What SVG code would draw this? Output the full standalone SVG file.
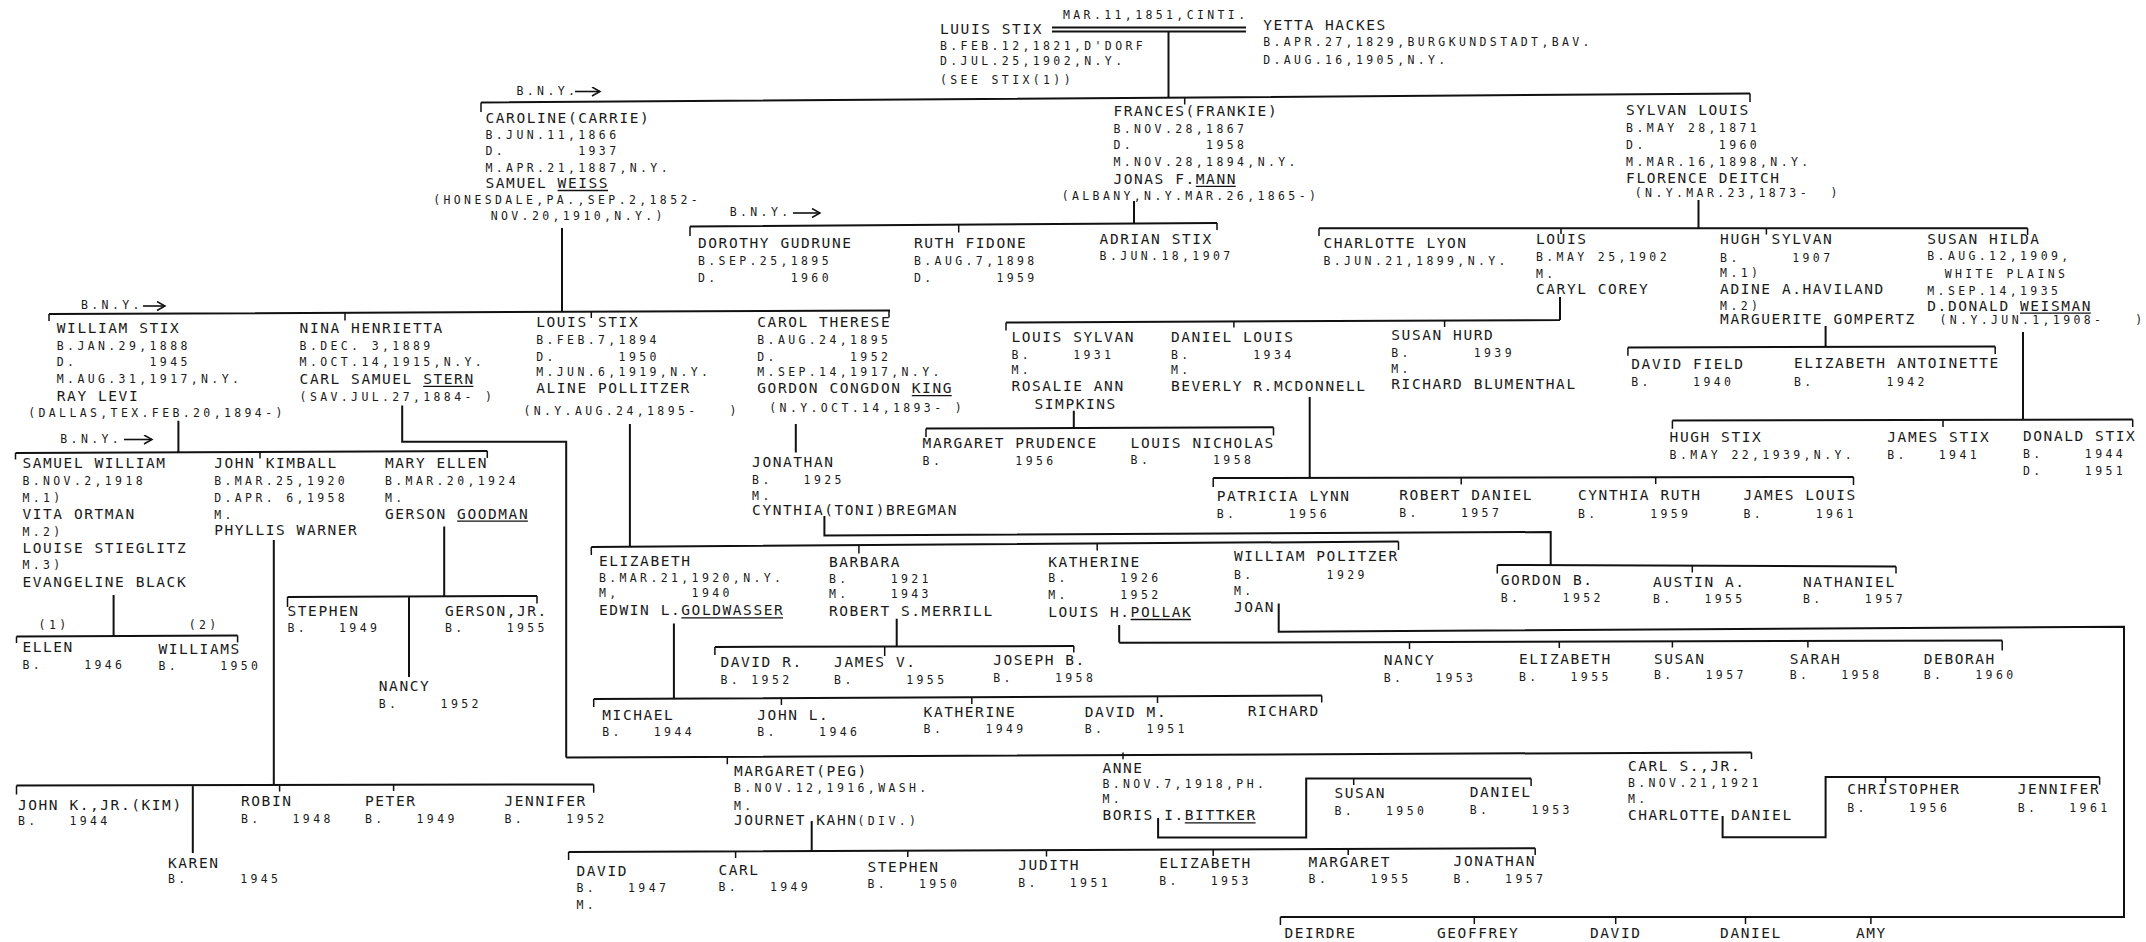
<svg xmlns="http://www.w3.org/2000/svg" width="2146" height="942" viewBox="0 0 2146 942" xml:space="preserve">
<defs>
<style>
text{font-family:"DejaVu Sans Mono","Liberation Mono",monospace;fill:#1a1a1a;white-space:pre}
.n{font-size:14.5px;letter-spacing:1.57px}
.d{font-size:11.5px;letter-spacing:3.38px}
.m{stroke:#111;stroke-width:2;fill:none}
.t{stroke:#111;stroke-width:1.5;fill:none}
.u{stroke:#111;stroke-width:1.3}
.ar{stroke:#111;stroke-width:1.6;fill:none}
</style>
<marker id="ah" markerUnits="userSpaceOnUse" markerWidth="12" markerHeight="12" refX="9" refY="5" orient="auto">
<path d="M1,0.5 L9,5 L1,9.5" fill="none" stroke="#111" stroke-width="1.5"/>
</marker>
</defs>
<rect width="2146" height="942" fill="#fff"/>

<g id="connectors">
<path class="m" d="M1052 27.5H1246 M1052 31.5H1246 M1168.5 31.5V97 M481 102.5L1750 93.5 M562 228V311 M49 314L890 310.5 M1134 201V223.5 M690 226.5L1217 223 M1698.5 200V228 M1319 228.2H2027.6 M1560 297V320 M1006 322.5L1560 320 M1073.8 410.7V427.7 M926 428.5L1273.5 427.2 M1309.7 397V477.5 M1213.2 478L1853.5 477 M1825.6 326V347.2 M1627.9 347.4L1995.2 346.6 M2023 332V420.2 M1672.4 420.4L2132.7 419.6 M402.2 405.6V441.7H566.2V757.5 M566.2 757.5L1751.5 752.4 M629.9 424V546.8 M591.3 547L1398.5 541.5 M795.8 424V452.6 M824.4 516V535.5L1550.7 532V565.3 M1497.3 565L1896 566.4 M113.6 595V636 M16.5 636.5L237.6 635.5 M444.2 526.4V597 M287.5 597L537 596 M409 597V677 M178.4 420.7V452.3 M15.5 453L487.3 451 M273.8 540V785 M16.5 785.4L593.7 784.4 M192.8 785V853 M673.9 623.4V698.8 M593.7 699L1321.7 695.5 M896.7 618.7V646.8 M714.9 647L1073.8 646 M1119.2 625V642.6 M1119.2 642.8L2002.2 640.4 M1278.7 603.6V631.7L2124 626.8V917.1H1280.4 M811.7 821V851.5 M568.6 852L1535.2 848.2 M1158.1 818V837.5H1306.2V778.4H1531.1 M1722.6 816V837.3H1825.6V776.9H2099.6"/>
<path class="t" d="M481 102.5V112 M1184.7 97V104.5 M1750 93.5V102 M49 314V321 M345 313V320.5 M591.3 311.5V318 M889 310.5V317.5 M690 226.5V236 M958.7 225V232.5 M1217 223V230 M1319 228.2V236 M1561 228.2V234 M1766.4 228.2V234.5 M2027.6 228.2V235 M1006 322.5V330.5 M1233.9 321.2V327.5 M1444.6 320.6V327 M926 428.5V437 M1273.5 427.2V435.5 M1213.2 478V487 M1461.2 477.4V484.5 M1655.7 477.2V484 M1853.5 477V485 M1627.9 347.4V355.8 M1995.2 346.6V354 M1672.4 420.4V428.8 M1943 419.9V427 M2132.7 419.6V427 M727.3 757V764.3 M1123 752.6V759.3 M1751.5 752.4V759 M591.3 547V555 M858.9 546V553.5 M1097.2 543.2V550.5 M1398.5 541.5V550 M1497.3 565V573.4 M1692.3 565.8V572.5 M1896 566.4V573.5 M16.5 636.5V643 M237.6 635.5V642.5 M287.5 597V607 M537 596V603.5 M15.5 453V459.5 M260 452.2V458.5 M487.3 451V458 M16.5 785.4V794.5 M279.6 785.2V791.5 M393.6 785V791 M593.7 784.4V792.8 M593.7 699V707 M781.4 698.2V705 M971.8 697.3V704 M1157.5 696.1V703 M1321.7 695.5V702.5 M714.9 647V655 M884.7 646.6V656 M1073.8 646V652.5 M1409.5 642V649 M1559.3 641.6V648 M1672.4 641.2V647.5 M1807.9 640.9V647.5 M2002.2 640.4V650.6 M1280.4 917.1V925 M1474.3 917.1V924 M1615.7 917.1V924 M1745.5 917.1V924 M1870.9 917.1V924 M568.6 852V860 M735.6 851.5V858 M907.8 850.8V857 M1046.5 850.2V856.5 M1213.2 849.5V856 M1348.2 848.9V855 M1535.2 848.2V855 M1353.7 778.4V785 M1531.1 778.4V786 M1885.5 776.9V783 M2099.6 776.9V784.7"/>
<line class="ar" x1="575" y1="91.5" x2="600" y2="91.5" marker-end="url(#ah)"/>
<line class="ar" x1="793" y1="213" x2="820" y2="213" marker-end="url(#ah)"/>
<line class="ar" x1="143" y1="306" x2="165" y2="306" marker-end="url(#ah)"/>
<line class="ar" x1="124" y1="439.5" x2="152" y2="439.5" marker-end="url(#ah)"/>
</g>

<g id="labels">
<text class="d" x="1063" y="18.5">MAR.11,1851,CINTI.</text>
<text class="d" x="516.5" y="95">B.N.Y.</text>
<text class="d" x="729.7" y="216.4">B.N.Y.</text>
<text class="d" x="81" y="309.4">B.N.Y.</text>
<text class="d" x="60.3" y="442.5">B.N.Y.</text>
<text class="d" x="38.6" y="628.8">(1)</text>
<text class="d" x="188.7" y="628.8">(2)</text>
</g>

<g id="louis-stix-sr">
<text class="n" x="940" y="33.6">LUUIS STIX</text>
<text class="d" x="940" y="49.7">B.FEB.12,1821,D'DORF</text>
<text class="d" x="940" y="65.4">D.JUL.25,1902,N.Y.</text>
<text class="d" x="940" y="83.9">(SEE STIX(1))</text>
</g>
<g id="yetta-hackes">
<text class="n" x="1263.2" y="30.2">YETTA HACKES</text>
<text class="d" x="1263.2" y="46">B.APR.27,1829,BURGKUNDSTADT,BAV.</text>
<text class="d" x="1263.2" y="63.8">D.AUG.16,1905,N.Y.</text>
</g>

<g id="caroline">
<text class="n" x="485.5" y="122.5">CAROLINE(CARRIE)</text>
<text class="d" x="485.5" y="138.5">B.JUN.11,1866</text>
<text class="d" x="485.5" y="155">D.       1937</text>
<text class="d" x="485.5" y="171.5">M.APR.21,1887,N.Y.</text>
<text class="n" x="485.5" y="188">SAMUEL WEISS</text>
<line class="u" x1="557.6" y1="190.5" x2="608" y2="190.5"/>
<text class="d" x="433.2" y="204">(HONESDALE,PA.,SEP.2,1852-</text>
<text class="d" x="490.7" y="220">NOV.20,1910,N.Y.)</text>
</g>
<g id="frances">
<text class="n" x="1113.4" y="115.8">FRANCES(FRANKIE)</text>
<text class="d" x="1113.4" y="132.6">B.NOV.28,1867</text>
<text class="d" x="1113.4" y="149.3">D.       1958</text>
<text class="d" x="1113.4" y="166.1">M.NOV.28,1894,N.Y.</text>
<text class="n" x="1113.4" y="183.9">JONAS F.MANN</text>
<line class="u" x1="1195.8" y1="186.4" x2="1235.7" y2="186.4"/>
<text class="d" x="1061.7" y="199.7">(ALBANY,N.Y.MAR.26,1865-)</text>
</g>
<g id="sylvan-louis">
<text class="n" x="1626.1" y="115.4">SYLVAN LOUIS</text>
<text class="d" x="1626.1" y="132.4">B.MAY 28,1871</text>
<text class="d" x="1626.1" y="149.4">D.       1960</text>
<text class="d" x="1626.1" y="166.4">M.MAR.16,1898,N.Y.</text>
<text class="n" x="1626.1" y="183.4">FLORENCE DEITCH</text>
<text class="d" x="1634.8" y="197">(N.Y.MAR.23,1873-  )</text>
</g>

<g id="dorothy">
<text class="n" x="698" y="248.3">DOROTHY GUDRUNE</text>
<text class="d" x="698" y="265.1">B.SEP.25,1895</text>
<text class="d" x="698" y="281.9">D.       1960</text>
</g>
<g id="ruth">
<text class="n" x="914" y="248.3">RUTH FIDONE</text>
<text class="d" x="914" y="265.1">B.AUG.7,1898</text>
<text class="d" x="914" y="281.9">D.      1959</text>
</g>
<g id="adrian">
<text class="n" x="1099.6" y="244.3">ADRIAN STIX</text>
<text class="d" x="1099.6" y="260.1">B.JUN.18,1907</text>
</g>

<g id="charlotte-lyon">
<text class="n" x="1323.4" y="247.7">CHARLOTTE LYON</text>
<text class="d" x="1323.4" y="265.1">B.JUN.21,1899,N.Y.</text>
</g>
<g id="louis-caryl">
<text class="n" x="1536" y="243.5">LOUIS</text>
<text class="d" x="1536" y="261">B.MAY 25,1902</text>
<text class="d" x="1536" y="277.5">M.</text>
<text class="n" x="1536" y="294">CARYL COREY</text>
</g>
<g id="hugh-sylvan">
<text class="n" x="1720.1" y="243.8">HUGH SYLVAN</text>
<text class="d" x="1720.1" y="261.5">B.     1907</text>
<text class="d" x="1720.1" y="276.7">M.1)</text>
<text class="n" x="1720.1" y="293.7">ADINE A.HAVILAND</text>
<text class="d" x="1720.1" y="309.7">M.2)</text>
<text class="n" x="1720.1" y="323.6">MARGUERITE GOMPERTZ</text>
</g>
<g id="susan-hilda">
<text class="n" x="1927.3" y="243.8">SUSAN HILDA</text>
<text class="d" x="1927.3" y="259.8">B.AUG.12,1909,</text>
<text class="d" x="1944.7" y="277.8">WHITE PLAINS</text>
<text class="d" x="1927.3" y="294.7">M.SEP.14,1935</text>
<text class="n" x="1927.3" y="310.7">D.DONALD WEISMAN</text>
<line class="u" x1="2020" y1="313.2" x2="2090.8" y2="313.2"/>
<text class="d" x="1939.5" y="323.6">(N.Y.JUN.1,1908-   )</text>
</g>

<g id="william-stix">
<text class="n" x="56.8" y="332.8">WILLIAM STIX</text>
<text class="d" x="56.8" y="349.6">B.JAN.29,1888</text>
<text class="d" x="56.8" y="366.4">D.       1945</text>
<text class="d" x="56.8" y="383.2">M.AUG.31,1917,N.Y.</text>
<text class="n" x="56.8" y="401.3">RAY LEVI</text>
<text class="d" x="28.2" y="416.7">(DALLAS,TEX.FEB.20,1894-)</text>
</g>
<g id="nina-henrietta">
<text class="n" x="299.6" y="332.8">NINA HENRIETTA</text>
<text class="d" x="299.6" y="349.6">B.DEC. 3,1889</text>
<text class="d" x="299.6" y="366.4">M.OCT.14,1915,N.Y.</text>
<text class="n" x="299.6" y="383.8">CARL SAMUEL STERN</text>
<line class="u" x1="423.2" y1="386.3" x2="473.4" y2="386.3"/>
<text class="d" x="299.6" y="400.6">(SAV.JUL.27,1884- )</text>
</g>
<g id="louis-stix-jr">
<text class="n" x="536.2" y="326.8">LOUIS STIX</text>
<text class="d" x="536.2" y="343.6">B.FEB.7,1894</text>
<text class="d" x="536.2" y="360.5">D.      1950</text>
<text class="d" x="536.2" y="376.1">M.JUN.6,1919,N.Y.</text>
<text class="n" x="536.2" y="393.2">ALINE POLLITZER</text>
<text class="d" x="523.4" y="414.7">(N.Y.AUG.24,1895-   )</text>
</g>
<g id="carol-therese">
<text class="n" x="757.3" y="326.8">CAROL THERESE</text>
<text class="d" x="757.3" y="343.6">B.AUG.24,1895</text>
<text class="d" x="757.3" y="360.5">D.       1952</text>
<text class="d" x="757.3" y="376.1">M.SEP.14,1917,N.Y.</text>
<text class="n" x="757.3" y="393.2">GORDON CONGDON KING</text>
<line class="u" x1="911.8" y1="395.7" x2="951.7" y2="395.7"/>
<text class="d" x="769.3" y="412.3">(N.Y.OCT.14,1893- )</text>
</g>
<g id="jonathan-king">
<text class="n" x="752.1" y="466.7">JONATHAN</text>
<text class="d" x="752.1" y="483.5">B.   1925</text>
<text class="d" x="752.1" y="499.6">M.</text>
<text class="n" x="752.1" y="515.4">CYNTHIA(TONI)BREGMAN</text>
</g>

<g id="louis-sylvan">
<text class="n" x="1011.4" y="341.5">LOUIS SYLVAN</text>
<text class="d" x="1011.4" y="358.7">B.    1931</text>
<text class="d" x="1011.4" y="373.8">M.</text>
<text class="n" x="1011.4" y="390.5">ROSALIE ANN</text>
<text class="n" x="1034.5" y="409">SIMPKINS</text>
</g>
<g id="daniel-louis">
<text class="n" x="1170.9" y="341.9">DANIEL LOUIS</text>
<text class="d" x="1170.9" y="358.7">B.      1934</text>
<text class="d" x="1170.9" y="373.8">M.</text>
<text class="n" x="1170.9" y="390.5">BEVERLY R.MCDONNELL</text>
</g>
<g id="susan-hurd">
<text class="n" x="1391.3" y="340.2">SUSAN HURD</text>
<text class="d" x="1391.3" y="357">B.      1939</text>
<text class="d" x="1391.3" y="372.5">M.</text>
<text class="n" x="1391.3" y="388.9">RICHARD BLUMENTHAL</text>
</g>
<g id="margaret-prudence">
<text class="n" x="922.6" y="447.6">MARGARET PRUDENCE</text>
<text class="d" x="922.6" y="465">B.       1956</text>
</g>
<g id="louis-nicholas">
<text class="n" x="1130.6" y="447.6">LOUIS NICHOLAS</text>
<text class="d" x="1130.6" y="464.4">B.      1958</text>
</g>
<g id="patricia-lynn">
<text class="n" x="1216.7" y="500.6">PATRICIA LYNN</text>
<text class="d" x="1216.7" y="518">B.     1956</text>
</g>
<g id="robert-daniel">
<text class="n" x="1399.2" y="499.6">ROBERT DANIEL</text>
<text class="d" x="1399.2" y="517">B.    1957</text>
</g>
<g id="cynthia-ruth">
<text class="n" x="1578" y="500">CYNTHIA RUTH</text>
<text class="d" x="1578" y="517.5">B.     1959</text>
</g>
<g id="james-louis">
<text class="n" x="1743.5" y="500">JAMES LOUIS</text>
<text class="d" x="1743.5" y="517.5">B.     1961</text>
</g>
<g id="david-field">
<text class="n" x="1631.3" y="369.4">DAVID FIELD</text>
<text class="d" x="1631.3" y="386.4">B.    1940</text>
</g>
<g id="elizabeth-antoinette">
<text class="n" x="1793.9" y="368.4">ELIZABETH ANTOINETTE</text>
<text class="d" x="1793.9" y="386">B.       1942</text>
</g>
<g id="hugh-stix">
<text class="n" x="1669.6" y="442.4">HUGH STIX</text>
<text class="d" x="1669.6" y="459.4">B.MAY 22,1939,N.Y.</text>
</g>
<g id="james-stix">
<text class="n" x="1887.3" y="442.4">JAMES STIX</text>
<text class="d" x="1887.3" y="459.4">B.   1941</text>
</g>
<g id="donald-stix">
<text class="n" x="2023" y="440.7">DONALD STIX</text>
<text class="d" x="2023" y="457.7">B.    1944</text>
<text class="d" x="2023" y="474.7">D.    1951</text>
</g>

<g id="samuel-william">
<text class="n" x="22.4" y="468.4">SAMUEL WILLIAM</text>
<text class="d" x="22.4" y="485.2">B.NOV.2,1918</text>
<text class="d" x="22.4" y="502">M.1)</text>
<text class="n" x="22.4" y="518.8">VITA ORTMAN</text>
<text class="d" x="22.4" y="535.6">M.2)</text>
<text class="n" x="22.4" y="553">LOUISE STIEGLITZ</text>
<text class="d" x="22.4" y="569.2">M.3)</text>
<text class="n" x="22.4" y="587">EVANGELINE BLACK</text>
</g>
<g id="john-kimball">
<text class="n" x="214.2" y="468.4">JOHN KIMBALL</text>
<text class="d" x="214.2" y="485.2">B.MAR.25,1920</text>
<text class="d" x="214.2" y="502">D.APR. 6,1958</text>
<text class="d" x="214.2" y="518.8">M.</text>
<text class="n" x="214.2" y="534.8">PHYLLIS WARNER</text>
</g>
<g id="mary-ellen">
<text class="n" x="385" y="468.4">MARY ELLEN</text>
<text class="d" x="385" y="485.2">B.MAR.20,1924</text>
<text class="d" x="385" y="502">M.</text>
<text class="n" x="385" y="518.7">GERSON GOODMAN</text>
<line class="u" x1="457.1" y1="521.2" x2="527.9" y2="521.2"/>
</g>
<g id="ellen">
<text class="n" x="22.4" y="651.9">ELLEN</text>
<text class="d" x="22.4" y="668.7">B.    1946</text>
</g>
<g id="williams">
<text class="n" x="158.4" y="653.6">WILLIAMS</text>
<text class="d" x="158.4" y="670">B.    1950</text>
</g>
<g id="stephen-goodman">
<text class="n" x="287.5" y="616">STEPHEN</text>
<text class="d" x="287.5" y="632">B.   1949</text>
</g>
<g id="gerson-jr">
<text class="n" x="444.9" y="616">GERSON,JR.</text>
<text class="d" x="444.9" y="632">B.    1955</text>
</g>
<g id="nancy-goodman">
<text class="n" x="378.8" y="690.5">NANCY</text>
<text class="d" x="378.8" y="707.9">B.    1952</text>
</g>
<g id="john-k-jr">
<text class="n" x="17.9" y="809.6">JOHN K.,JR.(KIM)</text>
<text class="d" x="17.9" y="825.4">B.   1944</text>
</g>
<g id="karen">
<text class="n" x="168" y="867.7">KAREN</text>
<text class="d" x="168" y="883.4">B.     1945</text>
</g>
<g id="robin">
<text class="n" x="241" y="806.2">ROBIN</text>
<text class="d" x="241" y="823">B.   1948</text>
</g>
<g id="peter">
<text class="n" x="365" y="806.2">PETER</text>
<text class="d" x="365" y="823">B.   1949</text>
</g>
<g id="jennifer-kimball">
<text class="n" x="504.5" y="806.2">JENNIFER</text>
<text class="d" x="504.5" y="823">B.    1952</text>
</g>

<g id="elizabeth-goldwasser">
<text class="n" x="598.9" y="565.7">ELIZABETH</text>
<text class="d" x="598.9" y="581.8">B.MAR.21,1920,N.Y.</text>
<text class="d" x="598.9" y="597">M,       1940</text>
<text class="n" x="598.9" y="615.4">EDWIN L.GOLDWASSER</text>
<line class="u" x1="681.3" y1="617.9" x2="783" y2="617.9"/>
</g>
<g id="barbara">
<text class="n" x="828.9" y="566.7">BARBARA</text>
<text class="d" x="828.9" y="582.5">B.    1921</text>
<text class="d" x="828.9" y="597.9">M.    1943</text>
<text class="n" x="828.9" y="616">ROBERT S.MERRILL</text>
</g>
<g id="katherine-pollak">
<text class="n" x="1048.2" y="566.7">KATHERINE</text>
<text class="d" x="1048.2" y="581.8">B.     1926</text>
<text class="d" x="1048.2" y="598.6">M.     1952</text>
<text class="n" x="1048.2" y="617">LOUIS H.POLLAK</text>
<line class="u" x1="1130.6" y1="619.5" x2="1191.1" y2="619.5"/>
</g>
<g id="william-politzer">
<text class="n" x="1233.9" y="561">WILLIAM POLITZER</text>
<text class="d" x="1233.9" y="578.5">B.       1929</text>
<text class="d" x="1233.9" y="594.6">M.</text>
<text class="n" x="1233.9" y="612">JOAN</text>
</g>
<g id="gordon-b">
<text class="n" x="1500.8" y="585.2">GORDON B.</text>
<text class="d" x="1500.8" y="602">B.    1952</text>
</g>
<g id="austin-a">
<text class="n" x="1652.9" y="586.7">AUSTIN A.</text>
<text class="d" x="1652.9" y="603">B.   1955</text>
</g>
<g id="nathaniel">
<text class="n" x="1803" y="586.7">NATHANIEL</text>
<text class="d" x="1803" y="603">B.    1957</text>
</g>

<g id="david-r">
<text class="n" x="720.4" y="667">DAVID R.</text>
<text class="d" x="720.4" y="683.8">B. 1952</text>
</g>
<g id="james-v">
<text class="n" x="834.1" y="667">JAMES V.</text>
<text class="d" x="834.1" y="683.8">B.     1955</text>
</g>
<g id="joseph-b">
<text class="n" x="993.2" y="665.3">JOSEPH B.</text>
<text class="d" x="993.2" y="682">B.    1958</text>
</g>
<g id="michael">
<text class="n" x="602.3" y="720">MICHAEL</text>
<text class="d" x="602.3" y="735.8">B.   1944</text>
</g>
<g id="john-l">
<text class="n" x="757.3" y="720">JOHN L.</text>
<text class="d" x="757.3" y="735.8">B.    1946</text>
</g>
<g id="katherine-goldwasser">
<text class="n" x="923.6" y="717.3">KATHERINE</text>
<text class="d" x="923.6" y="733">B.    1949</text>
</g>
<g id="david-m">
<text class="n" x="1084.8" y="716.6">DAVID M.</text>
<text class="d" x="1084.8" y="732.5">B.    1951</text>
</g>
<g id="richard">
<text class="n" x="1247.7" y="715.6">RICHARD</text>
</g>
<g id="nancy-pollak">
<text class="n" x="1383.7" y="665.3">NANCY</text>
<text class="d" x="1383.7" y="682">B.   1953</text>
</g>
<g id="elizabeth-pollak">
<text class="n" x="1519" y="663.6">ELIZABETH</text>
<text class="d" x="1519" y="680.5">B.   1955</text>
</g>
<g id="susan-pollak">
<text class="n" x="1654" y="663.5">SUSAN</text>
<text class="d" x="1654" y="679.4">B.   1957</text>
</g>
<g id="sarah">
<text class="n" x="1789.8" y="663.5">SARAH</text>
<text class="d" x="1789.8" y="679.4">B.   1958</text>
</g>
<g id="deborah">
<text class="n" x="1923.8" y="663.5">DEBORAH</text>
<text class="d" x="1923.8" y="679.4">B.   1960</text>
</g>

<g id="margaret-peg">
<text class="n" x="733.9" y="776">MARGARET(PEG)</text>
<text class="d" x="733.9" y="791.8">B.NOV.12,1916,WASH.</text>
<text class="d" x="733.9" y="809.6">M.</text>
<text class="n" x="733.9" y="825.4">JOURNET KAHN<tspan class="d">(DIV.)</tspan></text>
</g>
<g id="anne">
<text class="n" x="1102.4" y="772.7">ANNE</text>
<text class="d" x="1102.4" y="787.8">B.NOV.7,1918,PH.</text>
<text class="d" x="1102.4" y="802.9">M.</text>
<text class="n" x="1102.4" y="820.3">BORIS I.BITTKER</text>
<line class="u" x1="1184.8" y1="822.8" x2="1255.6" y2="822.8"/>
</g>
<g id="carl-jr">
<text class="n" x="1627.9" y="771.1">CARL S.,JR.</text>
<text class="d" x="1627.9" y="787.4">B.NOV.21,1921</text>
<text class="d" x="1627.9" y="803.4">M.</text>
<text class="n" x="1627.9" y="820.3">CHARLOTTE DANIEL</text>
</g>
<g id="david-kahn">
<text class="n" x="576.5" y="875.7">DAVID</text>
<text class="d" x="576.5" y="891.8">B.   1947</text>
<text class="d" x="576.5" y="909.3">M.</text>
</g>
<g id="carl-kahn">
<text class="n" x="718.4" y="875">CARL</text>
<text class="d" x="718.4" y="891">B.   1949</text>
</g>
<g id="stephen-kahn">
<text class="n" x="867.5" y="871.7">STEPHEN</text>
<text class="d" x="867.5" y="888">B.   1950</text>
</g>
<g id="judith">
<text class="n" x="1018.3" y="870">JUDITH</text>
<text class="d" x="1018.3" y="886.5">B.   1951</text>
</g>
<g id="elizabeth-kahn">
<text class="n" x="1159.2" y="867.7">ELIZABETH</text>
<text class="d" x="1159.2" y="885">B.   1953</text>
</g>
<g id="margaret-kahn">
<text class="n" x="1308.6" y="866.7">MARGARET</text>
<text class="d" x="1308.6" y="883.4">B.    1955</text>
</g>
<g id="jonathan-kahn">
<text class="n" x="1453.6" y="866">JONATHAN</text>
<text class="d" x="1453.6" y="882.7">B.   1957</text>
</g>
<g id="susan-bittker">
<text class="n" x="1334.5" y="797.9">SUSAN</text>
<text class="d" x="1334.5" y="814.6">B.   1950</text>
</g>
<g id="daniel-bittker">
<text class="n" x="1469.8" y="797.2">DANIEL</text>
<text class="d" x="1469.8" y="814">B.    1953</text>
</g>
<g id="christopher">
<text class="n" x="1847.2" y="793.9">CHRISTOPHER</text>
<text class="d" x="1847.2" y="811.8">B.    1956</text>
</g>
<g id="jennifer-stern">
<text class="n" x="2017.8" y="793.9">JENNIFER</text>
<text class="d" x="2017.8" y="811.8">B.   1961</text>
</g>
<g id="deirdre"><text class="n" x="1284.5" y="937.5">DEIRDRE</text></g>
<g id="geoffrey"><text class="n" x="1437" y="937.5">GEOFFREY</text></g>
<g id="david-politzer"><text class="n" x="1590" y="937.5">DAVID</text></g>
<g id="daniel-politzer"><text class="n" x="1720.1" y="937.5">DANIEL</text></g>
<g id="amy"><text class="n" x="1855.9" y="937.5">AMY</text></g>
</svg>
